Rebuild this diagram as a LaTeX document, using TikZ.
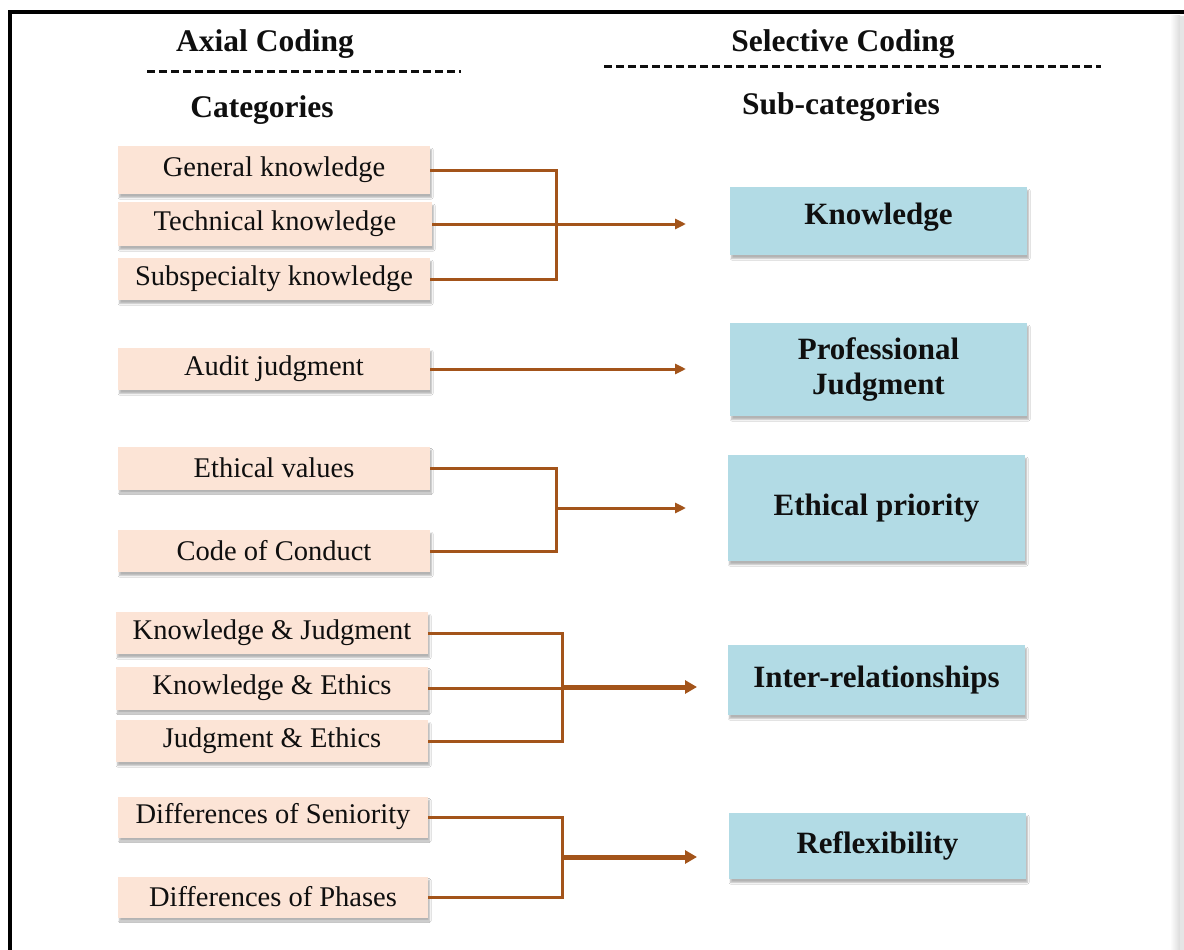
\documentclass[tikz,border=0pt]{standalone}
\usepackage{fontspec}
\setmainfont{Liberation Serif}
\usetikzlibrary{arrows.meta,shadows.blur}
\definecolor{catfill}{RGB}{252,228,214}
\definecolor{subfill}{RGB}{178,219,229}
\definecolor{linkbrown}{RGB}{163,84,26}
\definecolor{inkblack}{RGB}{15,15,15}

\begin{document}
\begin{tikzpicture}[x=1pt,y=-1pt,
  softshadow/.style={blur shadow={shadow xshift=1.5pt, shadow yshift=-3.5pt,
      shadow blur steps=5, shadow blur radius=1.5pt, shadow opacity=30}},
  cat/.style={fill=catfill, minimum width=312pt, inner sep=0pt, text=inkblack,
      font=\fontsize{28.5}{31}\selectfont, softshadow},
  sub/.style={fill=subfill, minimum width=297pt, inner sep=0pt, align=center,
      text=inkblack, font=\fontsize{31}{35}\selectfont\bfseries, softshadow},
  head/.style={text=inkblack, font=\fontsize{31.5}{34}\selectfont\bfseries},
  link/.style={draw=linkbrown, line width=3pt},
  flow/.style={link, -{Triangle[length=11pt,width=10pt]}},
  boldflow/.style={link, line width=5pt, -{Triangle[length=12pt,width=13pt]}},
  hdash/.style={dash pattern=on 8pt off 4pt, line width=3pt, inkblack}]

\useasboundingbox (0,0) rectangle (1184,950);
\fill[white] (0,0) rectangle (1184,950);

% outer frame
\shade[left color=white, right color=black!14] (1170,16) rectangle (1180,950);
\fill[black!10] (1180,16) rectangle (1184,950);
\draw[line width=4pt, black] (10,950) -- (10,12) -- (1184,12);

% column headings
\node[head] (axial) at (265,44) {Axial Coding};
\node[head] (selective) at (843,44) {Selective Coding};
\draw[hdash] (147,72) -- (461,72);
\draw[hdash] (604,67) -- (1101,67);
\node[head] (cats) at (262,110) {Categories};
\node[head] (subcats) at (841,107) {Sub-categories};

% categories
\node[cat, minimum height=48pt] (gk) at (274,170) {General knowledge};
\node[cat, minimum height=44pt, minimum width=314pt] (tk) at (275,224) {Technical knowledge};
\node[cat, minimum height=42pt] (sk) at (274,279) {Subspecialty knowledge};
\node[cat, minimum height=42pt] (aj) at (274,369) {Audit judgment};
\node[cat, minimum height=43pt] (ev) at (274,468) {Ethical values};
\node[cat, minimum height=42pt] (cc) at (274,551) {Code of Conduct};
\node[cat, minimum height=42pt] (kj) at (272,633) {Knowledge \& Judgment};
\node[cat, minimum height=43pt] (ke) at (272,688) {Knowledge \& Ethics};
\node[cat, minimum height=42pt] (je) at (272,741) {Judgment \& Ethics};
\node[cat, minimum height=41pt, minimum width=310pt] (ds) at (273,817) {Differences of Seniority};
\node[cat, minimum height=41pt, minimum width=310pt] (dp) at (273,897) {Differences of Phases};

% sub-categories
\node[sub, minimum height=68pt, text depth=15pt] (kn) at (878.5,221) {Knowledge};
\node[sub, minimum height=93pt] (pj) at (878.5,369.5) {Professional\\Judgment};
\node[sub, minimum height=106pt] (ep) at (876.5,508) {Ethical priority};
\node[sub, minimum height=70pt] (ir) at (876.5,680) {Inter-relationships};
\node[sub, minimum height=66pt] (rf) at (877.5,846) {Reflexibility};

% junction points and arrow ends
\coordinate (j1) at (556,224);  \coordinate (t1) at (686,224);
\coordinate (t2) at (686,369);
\coordinate (j3) at (556,508);  \coordinate (t3) at (686,508);
\coordinate (j4) at (562,687);  \coordinate (t4) at (697,687);
\coordinate (j5) at (562,857);  \coordinate (t5) at (697,857);

% knowledge group
\draw[link] (gk.east) -| (j1);
\draw[link] (sk.east) -| (j1);
\draw[link] (tk.east) -- (tk.east -| j1);
\draw[flow] (j1) -- (t1);

% judgment
\draw[flow] (aj.east) -- (t2);

% ethics group
\draw[link] (ev.east) -| (j3);
\draw[link] (cc.east) -| (j3);
\draw[flow] (j3) -- (t3);

% inter-relationship group
\draw[link] (kj.east) -| (j4);
\draw[link] (je.east) -| (j4);
\draw[link] (ke.east) -- (ke.east -| j4);
\draw[boldflow] (j4) -- (t4);

% reflexibility group
\draw[link] (ds.east) -| (j5);
\draw[link] (dp.east) -| (j5);
\draw[boldflow] (j5) -- (t5);

\end{tikzpicture}
\end{document}
